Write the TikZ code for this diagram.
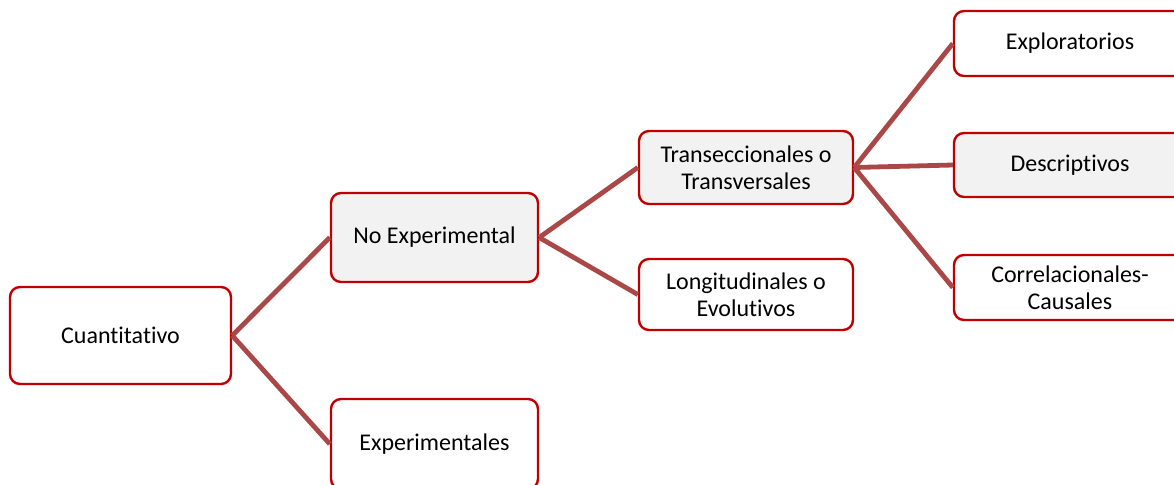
\documentclass[tikz,border=0pt]{standalone}
\usepackage{fontspec}
\setmainfont{Carlito}[Ligatures={NoCommon,NoContextual}]
\usetikzlibrary{positioning}
\definecolor{boxred}{RGB}{192,0,0}
\definecolor{linkred}{RGB}{170,72,72}
\definecolor{boxgray}{RGB}{242,242,242}

\begin{document}
\begin{tikzpicture}[x=0.5pt,y=-0.5pt,
    box/.style={draw=boxred, line width=1.2pt, rounded corners=5pt,
        align=center, inner sep=0pt, font=\fontsize{12}{13.3}\selectfont},
    shaded/.style={box, fill=boxgray},
    link/.style={draw=linkred, line width=2.4pt}]
\useasboundingbox (0,0) rectangle (1174,484);
\clip (0,0) rectangle (1174,484);

% Root
\node[box,
    minimum width=110.5pt,
    minimum height=48.5pt
    ] (cuant) at (120.5,335.5) {Cuantitativo};

% Second level
\node[shaded,
    minimum width=103.5pt,
    minimum height=44.5pt
    ] (noexp) at (434.5,237.5) {No Experimental};
\node[box,
    minimum width=103.5pt,
    minimum height=45pt
    ] (exper) at (434.5,444) {Experimentales};

% Third level
\node[shaded,
    minimum width=107pt,
    minimum height=36.5pt
    ] (trans) at (746,167.5) {Transeccionales o\\Transversales};
\node[box,
    minimum width=107pt,
    minimum height=35.5pt
    ] (longi) at (746,294.5) {Longitudinales o\\Evolutivos};

% Fourth level
\node[box,
    minimum width=116pt,
    minimum height=32.5pt
    ] (explo) at (1070,43.5) {Exploratorios};
\node[shaded,
    minimum width=116pt,
    minimum height=32pt
    ] (descr) at (1070,165) {Descriptivos};
\node[box,
    minimum width=116pt,
    minimum height=32.5pt
    ] (correl) at (1070,287.5) {Correlacionales-\\Causales};

% Connectors
\draw[link] (cuant.east) -- (noexp.west);
\draw[link] (cuant.east) -- (exper.west);
\draw[link] (noexp.east) -- (trans.west);
\draw[link] (noexp.east) -- (longi.west);
\draw[link] (trans.east) -- (explo.west);
\draw[link] (trans.east) -- (descr.west);
\draw[link] (trans.east) -- (correl.west);

\end{tikzpicture}
\end{document}
